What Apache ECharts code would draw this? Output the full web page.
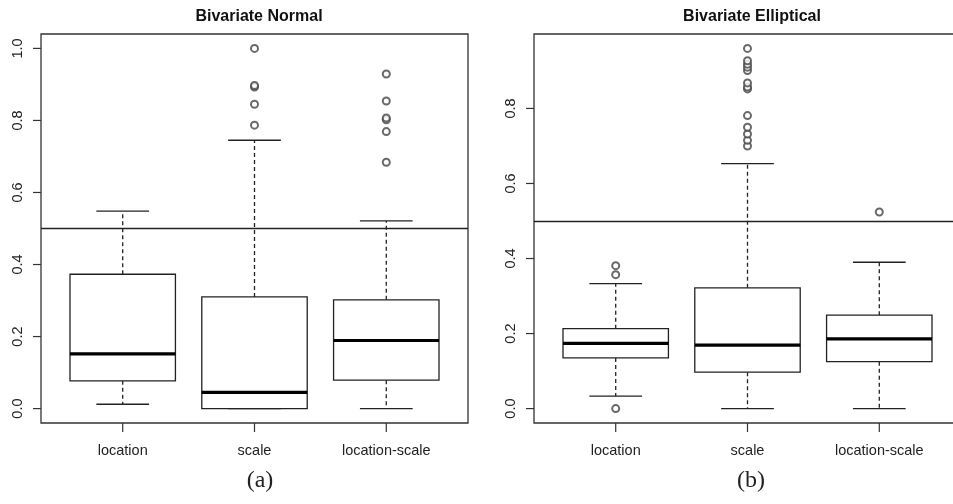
<!DOCTYPE html>
<html>
<head>
<meta charset="utf-8">
<script src="https://cdn.jsdelivr.net/npm/echarts@6/dist/echarts.min.js"></script>
<style>
  html, body { margin: 0; padding: 0; background: #fff; overflow: hidden; width: 953px; height: 504px; }
  #chart { width: 962px; height: 504px; }
</style>
</head>
<body>
<div id="chart"></div>
<script>
// ---- data ----
const categories = ['location', 'scale', 'location-scale'];
const titles = ['Bivariate Normal', 'Bivariate Elliptical'];
const captions = ['(a)', '(b)'];
// [lower whisker, Q1, median, Q3, upper whisker]
const normalStats = [
  [0.012, 0.077, 0.152, 0.373, 0.548],
  [0.000, 0.000, 0.045, 0.310, 0.745],
  [0.000, 0.079, 0.189, 0.302, 0.521]
];
const normalOutliers = [
  [],
  [0.787, 0.845, 0.893, 0.897, 1.000],
  [0.684, 0.769, 0.802, 0.807, 0.854, 0.929]
];
const ellipticalStats = [
  [0.033, 0.135, 0.174, 0.213, 0.333],
  [0.000, 0.097, 0.169, 0.322, 0.653],
  [0.000, 0.125, 0.186, 0.249, 0.390]
];
const ellipticalOutliers = [
  [0.000, 0.357, 0.381],
  [0.700, 0.715, 0.732, 0.750, 0.781, 0.852, 0.857, 0.868, 0.901, 0.910, 0.918, 0.927, 0.960],
  [0.524]
];
const normalTicks = [0, 0.2, 0.4, 0.6, 0.8, 1.0];
const ellipticalTicks = [0, 0.2, 0.4, 0.6, 0.8];
const referenceLine = 0.5;

// ---- layout ----
const X_MIN = 0.38, X_MAX = 3.62;              // plot region (R style 4% extension)
const yRanges = [[-0.04, 1.04], [-0.0384, 0.9984]];
const PLOT_W = 427, PLOT_H = 389, TICK_X = 8, TICK_Y = 9;
const panelLeft = [41, 534], PLOT_TOP = 34;
// extended axis ranges so that outward tick marks sit inside the drawing grid
const xMinExt = X_MIN - TICK_X * (X_MAX - X_MIN) / PLOT_W;
const yMinExt = yRanges.map(r => r[0] - TICK_Y * (r[1] - r[0]) / PLOT_H);

const FONT = 'Liberation Sans, Arial, Helvetica, sans-serif';
const INK = '#222';
const FRAME = '#333';

function boxData(stats) {
  return stats.map((s, i) => [i + 1].concat(s));
}
function outlierData(outs) {
  const d = [];
  outs.forEach((arr, i) => arr.forEach(v => d.push([i + 1, v])));
  return d;
}

function makeBoxRenderer(p) {
  return function (params, api) {
    const x = api.value(0);
    const lo = api.value(1), q1 = api.value(2), med = api.value(3), q3 = api.value(4), hi = api.value(5);
    const bw = api.size([0.8, 0])[0];
    const sw = bw / 2;
    const c = api.coord([x, 0])[0];
    const y = v => api.coord([x, v])[1];
    const solid = { stroke: INK, lineWidth: 1.3, fill: null };
    const dashed = { stroke: INK, lineWidth: 1.3, lineDash: [4, 3], fill: null };
    return {
      type: 'group',
      children: [
        { type: 'line', shape: { x1: c, y1: y(yRanges[p][0]), x2: c, y2: y(yMinExt[p]) }, style: { stroke: FRAME, lineWidth: 1.2 } },
        { type: 'line', shape: { x1: c, y1: y(q3), x2: c, y2: y(hi) }, style: dashed },
        { type: 'line', shape: { x1: c, y1: y(q1), x2: c, y2: y(lo) }, style: dashed },
        { type: 'line', shape: { x1: c - sw / 2, y1: y(hi), x2: c + sw / 2, y2: y(hi) }, style: solid },
        { type: 'line', shape: { x1: c - sw / 2, y1: y(lo), x2: c + sw / 2, y2: y(lo) }, style: solid },
        { type: 'rect', shape: { x: c - bw / 2, y: y(q3), width: bw, height: y(q1) - y(q3) }, style: { stroke: INK, lineWidth: 1.3, fill: '#fff' } },
        { type: 'line', shape: { x1: c - bw / 2, y1: y(med), x2: c + bw / 2, y2: y(med) }, style: { stroke: '#000', lineWidth: 3.2 } }
      ]
    };
  };
}

function makeFrameRenderer(p) {
  return function (params, api) {
    const tl = api.coord([X_MIN, yRanges[p][1]]);
    const br = api.coord([X_MAX, yRanges[p][0]]);
    return {
      type: 'rect', z2: 10,
      shape: { x: tl[0], y: tl[1], width: br[0] - tl[0], height: br[1] - tl[1] },
      style: { stroke: FRAME, lineWidth: 1.3, fill: null }
    };
  };
}

function makeYTickRenderer(p) {
  return function (params, api) {
    const t = api.value(1);
    const a = api.coord([X_MIN, t]);
    const b = api.coord([xMinExt, t]);
    return { type: 'line', shape: { x1: a[0], y1: a[1], x2: b[0], y2: b[1] }, style: { stroke: FRAME, lineWidth: 1.2 } };
  };
}

function xAxis(i) {
  return {
    type: 'value', gridIndex: i, min: xMinExt, max: X_MAX,
    splitLine: { show: false },
    axisLine: { show: false, onZero: false },
    axisTick: { show: false },
    axisLabel: {
      customValues: [1, 2, 3], margin: 11,
      formatter: v => categories[Math.round(v) - 1] || '',
      fontFamily: FONT, fontSize: 14.5, color: INK
    }
  };
}
function yAxis(i, ticks) {
  return {
    type: 'value', gridIndex: i, min: yMinExt[i], max: yRanges[i][1],
    splitLine: { show: false },
    axisLine: { show: false, onZero: false },
    axisTick: { show: false },
    axisLabel: {
      customValues: ticks, rotate: 90, margin: 8,
      formatter: v => Number(v).toFixed(1),
      fontFamily: FONT, fontSize: 14.5, color: INK
    }
  };
}

function refLine() {
  return {
    silent: true, symbol: 'none', label: { show: false },
    lineStyle: { color: INK, type: 'solid', width: 1.3 },
    data: [[{ coord: [X_MIN, referenceLine] }, { coord: [X_MAX, referenceLine] }]]
  };
}
const outlierStyle = { color: '#444', borderColor: '#444', borderWidth: 0.8 };

function panelSeries(p, stats, outs, ticks) {
  return [
    {
      type: 'custom', xAxisIndex: p, yAxisIndex: p, renderItem: makeFrameRenderer(p),
      data: [[X_MIN, yRanges[p][0]]], encode: { x: 0, y: 1 }, z: 1
    },
    {
      type: 'custom', xAxisIndex: p, yAxisIndex: p, renderItem: makeYTickRenderer(p),
      data: ticks.map(t => [X_MIN, t]), encode: { x: 0, y: 1 }, z: 1
    },
    {
      type: 'custom', xAxisIndex: p, yAxisIndex: p, renderItem: makeBoxRenderer(p),
      data: boxData(stats), encode: { x: 0, y: [1, 2, 3, 4, 5] }, z: 2, markLine: refLine()
    },
    {
      type: 'scatter', xAxisIndex: p, yAxisIndex: p, data: outlierData(outs),
      symbol: 'emptyCircle', symbolSize: 7, itemStyle: outlierStyle, z: 3
    }
  ];
}

const option = {
  animation: false,
  backgroundColor: '#fff',
  title: [
    { text: titles[0], left: 254, top: 4, textAlign: 'center', textStyle: { fontFamily: FONT, fontSize: 16, fontWeight: 'bold', color: '#111' } },
    { text: titles[1], left: 747, top: 4, textAlign: 'center', textStyle: { fontFamily: FONT, fontSize: 16, fontWeight: 'bold', color: '#111' } },
    { text: captions[0], left: 255, top: 464, textAlign: 'center', textStyle: { fontFamily: 'Liberation Serif, DejaVu Serif, serif', fontSize: 24, fontWeight: 'normal', color: '#222' } },
    { text: captions[1], left: 746, top: 464, textAlign: 'center', textStyle: { fontFamily: 'Liberation Serif, DejaVu Serif, serif', fontSize: 24, fontWeight: 'normal', color: '#222' } }
  ],
  grid: panelLeft.map(l => ({
    left: l - TICK_X, top: PLOT_TOP, width: PLOT_W + TICK_X, height: PLOT_H + TICK_Y,
    show: false, containLabel: false
  })),
  xAxis: [xAxis(0), xAxis(1)],
  yAxis: [yAxis(0, normalTicks), yAxis(1, ellipticalTicks)],
  series: panelSeries(0, normalStats, normalOutliers, normalTicks)
    .concat(panelSeries(1, ellipticalStats, ellipticalOutliers, ellipticalTicks))
};

const chart = echarts.init(document.getElementById('chart'), null, { renderer: 'canvas' });
chart.setOption(option);
</script>
</body>
</html>
